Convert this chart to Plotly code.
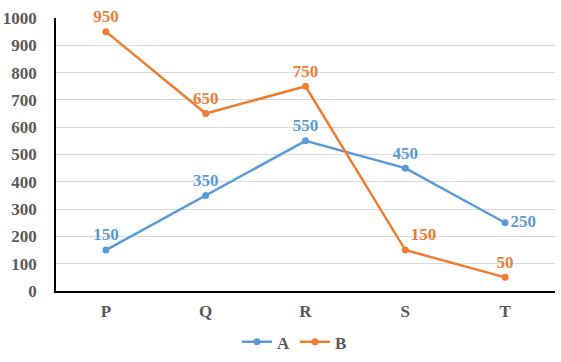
import plotly.graph_objects as go

categories = ["P", "Q", "R", "S", "T"]
series_a = [150, 350, 550, 450, 250]
series_b = [950, 650, 750, 150, 50]
y_ticks = [0, 100, 200, 300, 400, 500, 600, 700, 800, 900, 1000]

blue = "#5B9BD5"
orange = "#ED7D31"
font_family = "Liberation Serif"

fig = go.Figure()
fig.add_trace(go.Scatter(
    x=categories, y=series_a, name="A", mode="lines+markers+text",
    line=dict(color=blue, width=2.5), marker=dict(color=blue, size=7),
    text=[str(v) for v in series_a],
    textposition=["top center", "top center", "top center", "top center", "middle right"],
    textfont=dict(family=font_family, size=17, color=blue, weight="bold"),
    cliponaxis=False,
))
fig.add_trace(go.Scatter(
    x=categories, y=series_b, name="B", mode="lines+markers+text",
    line=dict(color=orange, width=2.5), marker=dict(color=orange, size=7),
    text=[str(v) for v in series_b],
    textposition=["top center", "top center", "top center", "top right", "top center"],
    textfont=dict(family=font_family, size=17, color=orange, weight="bold"),
    cliponaxis=False,
))

fig.update_layout(
    width=561, height=362,
    margin=dict(l=56, r=6, t=18, b=71, autoexpand=False),
    paper_bgcolor="white", plot_bgcolor="white",
    font=dict(family=font_family, size=17, color="#595959", weight="bold"),
    showlegend=True,
    hovermode=False,
    legend=dict(orientation="h", x=0.478, xanchor="center", y=-0.188, yanchor="middle",
                font=dict(family=font_family, size=17, color="#595959", weight="bold"),
                itemwidth=30, tracegroupgap=0),
)
fig.update_xaxes(
    type="category", range=[-0.5, 4.5], showgrid=False, automargin=False,
    showline=True, linecolor="black", linewidth=1.5,
    ticks="", ticklabelstandoff=4,
    tickfont=dict(family=font_family, size=17, color="#595959", weight="bold"),
)
fig.update_yaxes(
    range=[0, 1000], tickvals=y_ticks, showgrid=True, gridcolor="#D9D9D9", gridwidth=1,
    showline=True, linecolor="black", linewidth=1.5, zeroline=False, automargin=False,
    ticks="", ticklabelstandoff=14,
    tickfont=dict(family=font_family, size=17, color="#595959", weight="bold"),
)

fig.write_html("out.html", config={"displayModeBar": False},
               post_script="document.body.style.margin='0';")
